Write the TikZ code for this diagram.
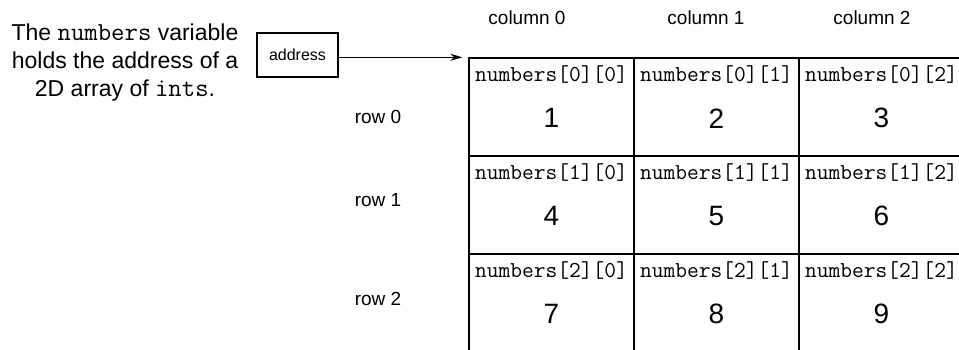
\documentclass[tikz,border=0pt]{standalone}
\usepackage{fontspec}
\setmainfont{Liberation Sans}
\usetikzlibrary{arrows.meta}

\begin{document}
\begin{tikzpicture}[x=1pt,y=-1pt,
    cell/.style={draw,line width=1.4pt,minimum width=165pt,minimum height=98pt,inner sep=0pt},
    idx/.style={font=\ttfamily\fontsize{22.8}{24}\selectfont},
    val/.style={font=\fontsize{28}{32}\selectfont},
    hdr/.style={font=\fontsize{19}{22}\selectfont}]
  \useasboundingbox (0,0) rectangle (959,350);
  \clip (0,0) rectangle (959,350);
  % caption on the left
  \node[align=center,font=\fontsize{23}{28}\selectfont] (note) at (125,63)
    {The {\ttfamily\fontsize{26}{28}\selectfont numbers} variable\\
     holds the address of a\\
     2D array of {\ttfamily\fontsize{26}{28}\selectfont ints}.};
  \node[draw,line width=1.2pt,minimum width=81pt,minimum height=44pt,
    font=\fontsize{16}{18}\selectfont] (addr) at (297.5,55) {address};
  % the 3x3 grid
  \foreach \r in {0,1,2}
    \foreach \c in {0,1,2} {
      \pgfmathtruncatemacro\v{3*\r+\c+1}
      \node[cell] (c\r\c) at (551.5+165*\c,107+98*\r) {};
      \node[idx] (i\r\c) at ([yshift=-17pt]c\r\c.north) {numbers[\r][\c]};
      \node[val] (v\r\c) at ([yshift=-61pt]c\r\c.north) {\v};
    }
  \foreach \x [count=\i from 0] in {527,706,872}
    \node[hdr] (col\i) at (\x,18) {column \i};
  \foreach \y [count=\i from 0] in {117,200,299}
    \node[hdr] (row\i) at (378,\y) {row \i};
  \draw[-{Stealth[length=12pt,width=7pt]},line width=1.3pt]
    (addr.east |- c00.north) -- ([xshift=-6pt]c00.north west);
\end{tikzpicture}
\end{document}
